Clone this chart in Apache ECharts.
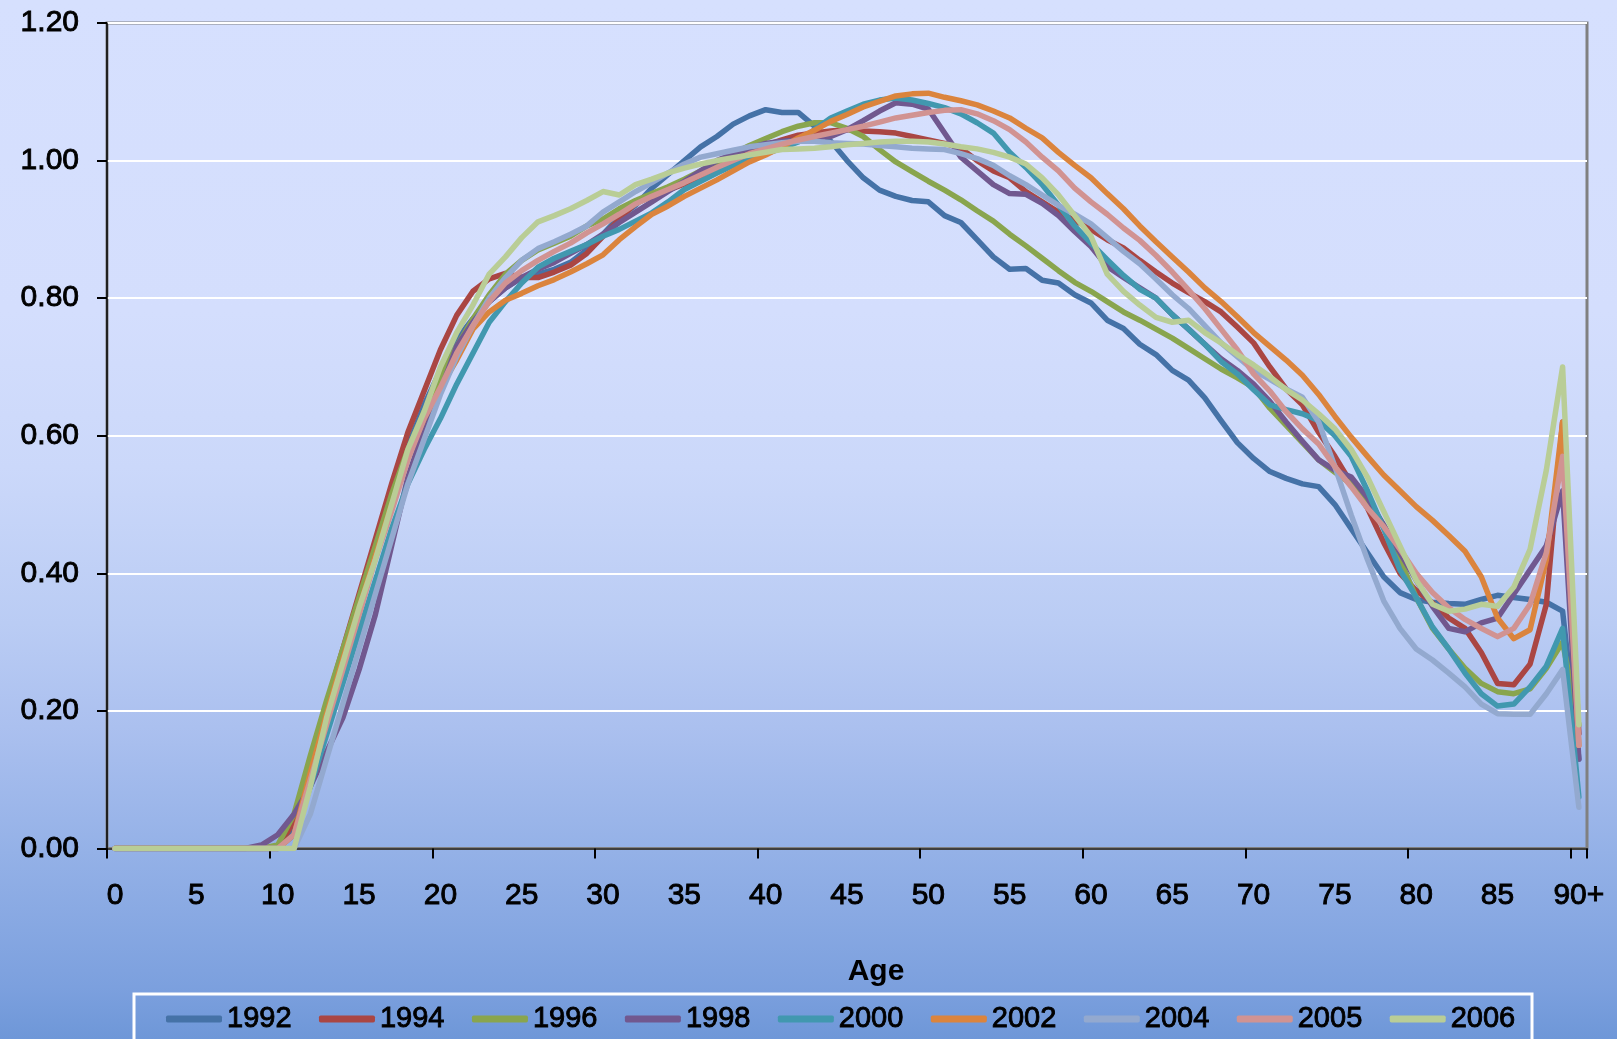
<!DOCTYPE html>
<html>
<head>
<meta charset="utf-8">
<script src="https://cdn.jsdelivr.net/npm/echarts@6/dist/echarts.min.js"></script>
<style>
html,body{margin:0;padding:0;background:#fff;}
#chart{width:1617px;height:1039px;}
</style>
</head>
<body>
<div id="chart"></div>
<script>
// ---- data ----
const ages = [];
for (let a = 0; a < 90; a++) ages.push(String(a));
ages.push('90+');

const seriesNames = ['1992', '1994', '1996', '1998', '2000', '2002', '2004', '2005', '2006'];
const seriesColors = ['#4572A7', '#AA4643', '#89A54E', '#71588F', '#4198AF', '#DB843D', '#93A9CF', '#D19392', '#B9CD96'];

const y1992 = [0,0,0,0,0,0,0,0,0,0,
  0,0.03,0.11,0.19,0.27,0.35,0.43,0.51,0.585,0.645,
  0.695,0.74,0.77,0.795,0.815,0.83,0.835,0.842,0.852,0.87,
  0.893,0.918,0.935,0.96,0.98,1.0,1.02,1.035,1.053,1.065,
  1.074,1.07,1.07,1.05,1.028,1.0,0.975,0.957,0.948,0.942,
  0.94,0.92,0.91,0.885,0.86,0.842,0.843,0.826,0.822,0.805,
  0.793,0.768,0.756,0.733,0.718,0.695,0.681,0.655,0.622,0.59,
  0.567,0.548,0.538,0.53,0.526,0.50,0.465,0.43,0.395,0.372,
  0.362,0.358,0.356,0.355,0.362,0.368,0.365,0.362,0.358,0.345,
  0.13];
const y1994 = [0,0,0,0,0,0,0,0,0,0,
  0,0.04,0.13,0.21,0.29,0.37,0.45,0.53,0.605,0.665,
  0.725,0.775,0.81,0.828,0.836,0.83,0.83,0.838,0.848,0.865,
  0.89,0.915,0.938,0.948,0.957,0.966,0.978,0.99,1.0,1.012,
  1.022,1.03,1.037,1.04,1.043,1.045,1.043,1.042,1.04,1.035,
  1.03,1.025,1.018,1.0,0.985,0.975,0.955,0.94,0.925,0.913,
  0.90,0.885,0.873,0.855,0.838,0.822,0.808,0.795,0.78,0.758,
  0.735,0.70,0.668,0.645,0.605,0.57,0.531,0.495,0.445,0.40,
  0.375,0.357,0.335,0.32,0.285,0.24,0.238,0.268,0.355,0.62,
  0.167];
const y1996 = [0,0,0,0,0,0,0,0,0,0,
  0.005,0.05,0.135,0.215,0.29,0.365,0.44,0.515,0.58,0.635,
  0.685,0.73,0.77,0.805,0.835,0.855,0.87,0.88,0.89,0.905,
  0.915,0.93,0.942,0.952,0.962,0.973,0.985,0.997,1.01,1.022,
  1.032,1.042,1.05,1.055,1.055,1.047,1.035,1.016,0.998,0.984,
  0.97,0.957,0.943,0.927,0.912,0.893,0.876,0.858,0.84,0.823,
  0.81,0.795,0.78,0.768,0.755,0.742,0.727,0.712,0.697,0.684,
  0.67,0.64,0.615,0.59,0.565,0.547,0.53,0.505,0.47,0.42,
  0.365,0.32,0.29,0.262,0.24,0.228,0.225,0.232,0.262,0.30,
  0.18];
const y1998 = [0,0,0,0,0,0,0,0,0,0.005,
  0.02,0.05,0.09,0.14,0.19,0.26,0.34,0.44,0.54,0.61,
  0.665,0.73,0.765,0.795,0.815,0.83,0.842,0.852,0.865,0.878,
  0.893,0.91,0.925,0.94,0.955,0.97,0.985,1.0,1.01,1.018,
  1.025,1.028,1.03,1.033,1.035,1.045,1.058,1.072,1.084,1.082,
  1.075,1.04,1.005,0.985,0.965,0.952,0.951,0.938,0.92,0.897,
  0.875,0.846,0.83,0.815,0.80,0.776,0.755,0.733,0.712,0.695,
  0.675,0.65,0.62,0.592,0.565,0.55,0.54,0.51,0.47,0.43,
  0.39,0.352,0.32,0.315,0.328,0.335,0.37,0.405,0.44,0.52,
  0.13];
const y2000 = [0,0,0,0,0,0,0,0,0,0,
  0,0.02,0.09,0.165,0.24,0.315,0.39,0.465,0.53,0.58,
  0.625,0.675,0.72,0.765,0.795,0.822,0.845,0.858,0.868,0.878,
  0.89,0.90,0.912,0.924,0.94,0.958,0.97,0.982,0.993,1.003,
  1.01,1.018,1.027,1.045,1.062,1.072,1.082,1.088,1.091,1.088,
  1.083,1.077,1.068,1.055,1.04,1.012,0.99,0.965,0.935,0.905,
  0.88,0.856,0.833,0.813,0.80,0.776,0.755,0.733,0.708,0.69,
  0.667,0.645,0.638,0.632,0.622,0.60,0.57,0.52,0.465,0.405,
  0.365,0.322,0.29,0.255,0.225,0.207,0.21,0.235,0.265,0.32,
  0.075];
const y2002 = [0,0,0,0,0,0,0,0,0,0,
  0,0.02,0.11,0.195,0.275,0.35,0.425,0.50,0.57,0.625,
  0.67,0.71,0.755,0.78,0.797,0.807,0.818,0.827,0.838,0.85,
  0.863,0.885,0.904,0.922,0.934,0.948,0.96,0.972,0.985,0.998,
  1.008,1.02,1.033,1.044,1.057,1.067,1.078,1.086,1.094,1.097,
  1.098,1.092,1.087,1.081,1.072,1.062,1.047,1.033,1.012,0.993,
  0.975,0.952,0.93,0.905,0.882,0.86,0.838,0.815,0.795,0.773,
  0.75,0.73,0.71,0.688,0.66,0.628,0.598,0.57,0.543,0.52,
  0.497,0.477,0.455,0.432,0.395,0.335,0.305,0.318,0.42,0.62,
  0.15];
const y2004 = [0,0,0,0,0,0,0,0,0,0,
  0,0,0.05,0.13,0.21,0.29,0.37,0.45,0.53,0.595,
  0.66,0.715,0.76,0.80,0.83,0.855,0.872,0.882,0.893,0.905,
  0.925,0.94,0.955,0.968,0.982,0.995,1.005,1.01,1.015,1.02,
  1.023,1.026,1.028,1.028,1.026,1.025,1.024,1.022,1.02,1.018,
  1.017,1.016,1.01,1.003,0.993,0.978,0.965,0.95,0.935,0.922,
  0.908,0.888,0.868,0.85,0.828,0.805,0.785,0.76,0.735,0.715,
  0.695,0.682,0.668,0.656,0.62,0.555,0.485,0.42,0.36,0.32,
  0.29,0.274,0.255,0.235,0.21,0.196,0.195,0.195,0.225,0.26,
  0.06];
const y2005 = [0,0,0,0,0,0,0,0,0,0,
  0,0.02,0.10,0.18,0.26,0.34,0.42,0.49,0.565,0.625,
  0.67,0.72,0.76,0.795,0.822,0.84,0.855,0.868,0.88,0.895,
  0.908,0.922,0.937,0.948,0.958,0.968,0.979,0.99,1.0,1.01,
  1.017,1.024,1.03,1.035,1.04,1.045,1.05,1.056,1.062,1.066,
  1.07,1.073,1.074,1.068,1.058,1.045,1.027,1.005,0.985,0.96,
  0.94,0.922,0.902,0.884,0.862,0.838,0.812,0.785,0.755,0.725,
  0.69,0.665,0.635,0.61,0.588,0.555,0.526,0.495,0.468,0.435,
  0.40,0.372,0.35,0.333,0.32,0.308,0.32,0.355,0.43,0.57,
  0.15];
const y2006 = [0,0,0,0,0,0,0,0,0,0,
  0,0,0.09,0.19,0.27,0.35,0.42,0.50,0.58,0.635,
  0.70,0.75,0.79,0.835,0.86,0.888,0.911,0.92,0.93,0.942,
  0.955,0.95,0.965,0.973,0.982,0.989,0.995,1.0,1.004,1.008,
  1.012,1.016,1.017,1.018,1.02,1.023,1.025,1.027,1.028,1.028,
  1.027,1.024,1.02,1.017,1.012,1.005,0.995,0.975,0.95,0.92,
  0.89,0.835,0.81,0.79,0.772,0.765,0.768,0.75,0.735,0.718,
  0.703,0.686,0.667,0.652,0.632,0.61,0.58,0.54,0.49,0.44,
  0.39,0.355,0.345,0.348,0.355,0.352,0.38,0.435,0.55,0.70,
  0.18];

const yTicks = [0, 0.2, 0.4, 0.6, 0.8, 1.0, 1.2];
const seriesValues = [y1992, y1994, y1996, y1998, y2000, y2002, y2004, y2005, y2006];

// ---- chart ----
const FONT = 'Liberation Sans, Arial, Helvetica, sans-serif';
const TXT = {
  color: '#000', fontFamily: FONT,
  textBorderColor: '#000', textBorderWidth: 0.9,
  textShadowColor: 'rgba(60,60,60,0.45)', textShadowOffsetX: 1, textShadowOffsetY: 1, textShadowBlur: 0
};
const chart = echarts.init(document.getElementById('chart'), null, {renderer: 'canvas'});

const option = {
  animation: false,
  backgroundColor: {
    type: 'linear', x: 0, y: 0, x2: 0, y2: 1,
    colorStops: [
      {offset: 0, color: '#D6E0FE'},
      {offset: 0.3, color: '#D4DEFD'},
      {offset: 0.45, color: '#CBD8FA'},
      {offset: 0.6, color: '#BACCF4'},
      {offset: 0.7, color: '#ABC0EF'},
      {offset: 0.82, color: '#94B1E7'},
      {offset: 0.95, color: '#7CA0DE'},
      {offset: 1, color: '#6E97D8'}
    ]
  },
  color: seriesColors,
  grid: {
    left: 107, right: 30, top: 23, bottom: 190.5,
    show: true, borderColor: '#808080', borderWidth: 3,
    backgroundColor: 'transparent'
  },
  xAxis: {
    type: 'category',
    data: ages,
    boundaryGap: true,
    axisLine: {lineStyle: {color: '#000', width: 1.5}},
    axisTick: {show: true, interval: 9, length: 10, lineStyle: {color: '#000', width: 2}},
    axisLabel: Object.assign({interval: 4, margin: 32, fontSize: 30}, TXT),
    splitLine: {show: false}
  },
  yAxis: {
    type: 'value',
    min: yTicks[0], max: yTicks[yTicks.length - 1], interval: 0.2,
    axisLine: {show: true, lineStyle: {color: '#000', width: 1.5}},
    axisTick: {show: true, length: 10, lineStyle: {color: '#000', width: 2}},
    axisLabel: Object.assign({margin: 28, fontSize: 30, formatter: v => v.toFixed(2)}, TXT),
    splitLine: {show: true, lineStyle: {color: '#FFFFFF', width: 2}}
  },
  legend: {
    data: seriesNames,
    left: 166, top: 1004,
    padding: 0,
    icon: 'roundRect',
    itemWidth: 56, itemHeight: 7, itemGap: 27,
    textStyle: Object.assign({fontSize: 29, padding: [0, 0, 0, 0]}, TXT),
    selectedMode: false
  },
  graphic: [
    {
      type: 'rect', silent: true, z: 0,
      shape: {x: 134, y: 994, width: 1398, height: 90},
      style: {fill: 'none', stroke: '#FFFFFF', lineWidth: 3}
    },
    {
      type: 'text', silent: true,
      x: 876, y: 972,
      style: {
        text: 'Age', font: 'bold 30px ' + FONT, fill: '#000',
        textAlign: 'center', textVerticalAlign: 'middle',
        shadowColor: 'rgba(60,60,60,0.45)', shadowOffsetX: 1, shadowOffsetY: 1
      }
    }
  ],
  series: seriesNames.map((name, i) => ({
    name: name,
    type: 'line',
    data: seriesValues[i],
    showSymbol: false,
    symbol: 'none',
    smooth: false,
    lineStyle: {width: 5.5, color: seriesColors[i], cap: 'round', join: 'round'},
    itemStyle: {color: seriesColors[i]},
    emphasis: {disabled: true}
  }))
};
chart.setOption(option);
</script>
</body>
</html>
